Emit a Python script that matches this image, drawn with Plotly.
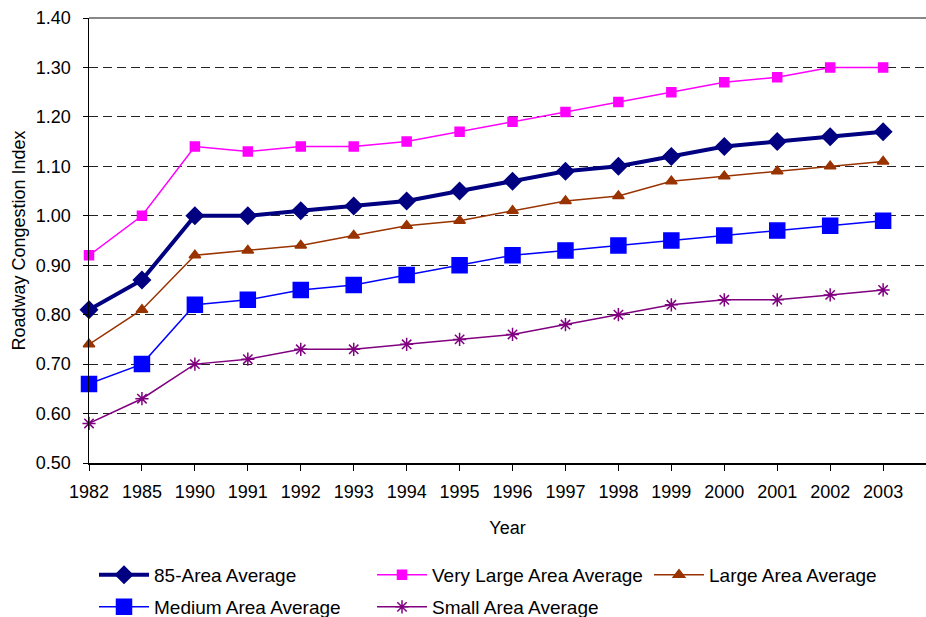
import plotly.graph_objects as go

years = ["1982", "1985", "1990", "1991", "1992", "1993", "1994", "1995",
         "1996", "1997", "1998", "1999", "2000", "2001", "2002", "2003"]

area85 = [0.81, 0.87, 1.00, 1.00, 1.01, 1.02, 1.03, 1.05, 1.07, 1.09, 1.10, 1.12, 1.14, 1.15, 1.16, 1.17]
very_large = [0.92, 1.00, 1.14, 1.13, 1.14, 1.14, 1.15, 1.17, 1.19, 1.21, 1.23, 1.25, 1.27, 1.28, 1.30, 1.30]
large = [0.74, 0.81, 0.92, 0.93, 0.94, 0.96, 0.98, 0.99, 1.01, 1.03, 1.04, 1.07, 1.08, 1.09, 1.10, 1.11]
medium = [0.66, 0.70, 0.82, 0.83, 0.85, 0.86, 0.88, 0.90, 0.92, 0.93, 0.94, 0.95, 0.96, 0.97, 0.98, 0.99]
small = [0.58, 0.63, 0.70, 0.71, 0.73, 0.73, 0.74, 0.75, 0.76, 0.78, 0.80, 0.82, 0.83, 0.83, 0.84, 0.85]

y_ticks = [0.5, 0.6, 0.7, 0.8, 0.9, 1.0, 1.1, 1.2, 1.3, 1.4]

FONT = "Liberation Sans, Arial, sans-serif"
W, H = 926, 617

fig = go.Figure()

series = [
    ("85-Area Average", area85, "#000080", 4, "diamond", 13, "legend"),
    ("Very Large Area Average", very_large, "#FF00FF", 1.5, "square", 9, "legend2"),
    ("Large Area Average", large, "#993300", 1.5, "triangle-up", 10, "legend3"),
    ("Medium Area Average", medium, "#0000FF", 1.5, "square", 15, "legend4"),
    ("Small Area Average", small, "#800080", 1.5, "asterisk-open", 11, "legend5"),
]

for name, vals, color, lw, sym, ms, lg in series:
    fig.add_trace(go.Scatter(
        x=years, y=vals, name=name, mode="lines+markers",
        line=dict(color=color, width=lw),
        marker=dict(symbol=sym, size=ms, color=color,
                    line=dict(color=color, width=1.5)),
        legend=lg,
        cliponaxis=False,
    ))

# legend positions (pixels within the figure)
legend_pos = {
    "legend": (94, 575),
    "legend2": (372, 575),
    "legend3": (649, 575),
    "legend4": (94, 607),
    "legend5": (372, 607),
}
legend_common = dict(
    xref="container", yref="container",
    xanchor="left", yanchor="middle",
    font=dict(family=FONT, size=19, color="#000000"),
    bgcolor="rgba(0,0,0,0)", borderwidth=0,
    itemwidth=50, orientation="h",
)
legend_layout = {}
for k, (px, py) in legend_pos.items():
    d = dict(legend_common)
    d["x"] = px / W
    d["y"] = 1 - py / H
    legend_layout[k] = d

fig.update_layout(
    width=W, height=H,
    margin=dict(l=89, r=0, t=18, b=154, autoexpand=False),
    paper_bgcolor="white", plot_bgcolor="white",
    font=dict(family=FONT, size=18, color="#000000"),
    showlegend=True,
    hovermode=False,
    xaxis=dict(
        type="category",
        range=[0, 15.81],
        automargin=False,
        showgrid=False, zeroline=False,
        showline=True, linecolor="#000000", linewidth=1.5,
        ticks="outside", ticklen=6, tickcolor="#000000", tickwidth=1,
        tickfont=dict(family=FONT, size=18),
        ticklabelstandoff=6,
        title=dict(text="Year", font=dict(family=FONT, size=18), standoff=20),
    ),
    yaxis=dict(
        range=[0.5, 1.4],
        automargin=False,
        tickvals=y_ticks, tickformat=".2f",
        showgrid=True, gridcolor="#222222", gridwidth=1, griddash="9px,5px",
        zeroline=False,
        showline=True, linecolor="#000000", linewidth=1.5,
        ticks="outside", ticklen=5, tickcolor="#000000", tickwidth=1,
        tickfont=dict(family=FONT, size=18),
        ticklabelstandoff=8,
        title=dict(text="Roadway Congestion Index", font=dict(family=FONT, size=18), standoff=5),
    ),
    **legend_layout,
)

# top border of the plot area (solid gray)
fig.add_shape(type="line", xref="paper", yref="paper", x0=0, x1=1, y0=1, y1=1,
              line=dict(color="#888888", width=2), layer="below")

fig.write_html(
    "out.html",
    config={"staticPlot": True, "displayModeBar": False},
    post_script="document.body.style.margin='0';document.body.style.overflow='hidden';",
)
